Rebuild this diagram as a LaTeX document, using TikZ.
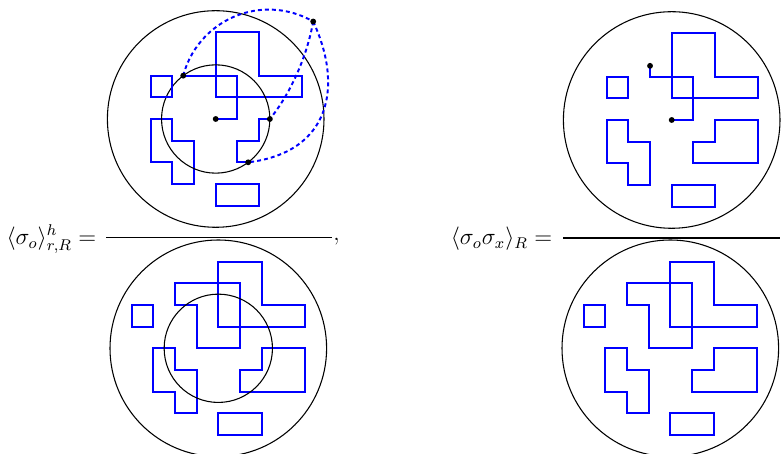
\documentclass[tikz,border=0pt]{standalone}
\usepackage{amsmath}
\usepackage{amssymb}
\usepackage{xcolor}
\usepackage{tikz}

\tikzset{
  rim/.style={draw=black, line width=0.55pt},
  cluster/.style={draw=blue, line width=1pt},
  hop/.style={draw=blue, line width=1pt, dash pattern=on 2pt off 1.6pt},
  site/.style={circle, fill=black, inner sep=0pt, minimum size=3pt},
}

\begin{document}
\begin{tikzpicture}[x=0.018cm,y=-0.018cm,font=\large]
  \useasboundingbox (0,0) rectangle (782,454);

  % outer disks and the clusters that all four share
  \foreach \cx/\cy in {215.7/119,671.7/120,218.3/348.3,670.3/348.3} {
    \begin{scope}[shift={(\cx,\cy)},x=0.39cm,y=0.39cm]
      \draw[rim] (0,0) circle[radius=5];
      \draw[cluster] (0,4) -- (2,4) -- (2,2) -- (4,2) -- (4,1) -- (0,1) -- cycle;
      \draw[cluster] (-3,0) -- (-2,0) -- (-2,-1) -- (-1,-1) -- (-1,-3) -- (-2,-3) -- (-2,-2) -- (-3,-2) -- cycle;
      \draw[cluster] (0,-3) rectangle (2,-4);
    \end{scope}
  }
  \foreach \cx/\cy in {671.7/120,218.3/348.3,670.3/348.3} {
    \begin{scope}[shift={(\cx,\cy)},x=0.39cm,y=0.39cm]
      \draw[cluster] (2,0) -- (4,0) -- (4,-2) -- (1,-2) -- (1,-1) -- (2,-1) -- cycle;
    \end{scope}
  }
  \foreach \cx/\cy in {218.3/348.3,670.3/348.3} {
    \begin{scope}[shift={(\cx,\cy)},x=0.39cm,y=0.39cm]
      \draw[cluster] (-4,1) rectangle (-3,2);
      \draw[cluster] (-2,3) -- (1,3) -- (1,0) -- (-1,0) -- (-1,2) -- (-2,2) -- cycle;
    \end{scope}
  }

  % inner disks on the left
  \foreach \cx/\cy in {215.7/119,218.3/348.3}
    \draw[rim, shift={(\cx,\cy)}, x=0.39cm, y=0.39cm] (0,0) circle[radius=2.5];

  % top left: the cut clusters
  \begin{scope}[shift={(215.7,119)},x=0.39cm,y=0.39cm]
    \draw[cluster] (-3,1) rectangle (-2,2);
    \coordinate (o1) at (0,0);
    \coordinate (a1) at (-1.5,2);
    \coordinate (p1) at (4.5,4.5);
    \coordinate (b1) at (2.5,0);
    \coordinate (c1) at (1.5,-2);
    \draw[cluster] (o1) -- (1,0) -- (1,2) -- (a1);
    \draw[cluster] (b1) -- (2,0) -- (2,-1) -- (1,-1) -- (1,-2) -- (c1);
    \draw[hop] (a1) arc[start angle=165.35, end angle=59.9, radius=4.084];
    \draw[hop] (p1) .. controls (4.2,2.8) and (3.4,1.1) .. (b1);
    \draw[hop] (p1) .. controls (5.9,1.5) and (5.3,-1.54) .. (c1);
    \foreach \pt in {o1,a1,p1,b1,c1}
      \node[site] (\pt dot) at (\pt) {};
  \end{scope}

  % top right: the open walk
  \begin{scope}[shift={(671.7,120)},x=0.39cm,y=0.39cm]
    \draw[cluster] (-3,1) rectangle (-2,2);
    \coordinate (o2) at (0,0);
    \coordinate (s2) at (-1,2.5);
    \draw[cluster] (s2) -- (-1,2) -- (1,2) -- (1,0) -- (o2);
    \foreach \pt in {o2,s2}
      \node[site] (\pt dot) at (\pt) {};
  \end{scope}

  % fractions
  \draw[line width=0.6pt] (106,237.7) -- (331.7,237.7);
  \draw[line width=1pt] (563.3,237.7) -- (780,237.7);
  \node[anchor=base east, inner sep=0pt] (lhsh) at (96.7,244.5) {$\langle\sigma_o\rangle^h_{r,R} =$};
  \node[anchor=base west, inner sep=0pt] (comma) at (333,241) {$,$};
  \node[anchor=base east, inner sep=0pt] (lhsx) at (552.7,244.5) {$\langle\sigma_o\sigma_x\rangle_R =$};
\end{tikzpicture}
\end{document}
